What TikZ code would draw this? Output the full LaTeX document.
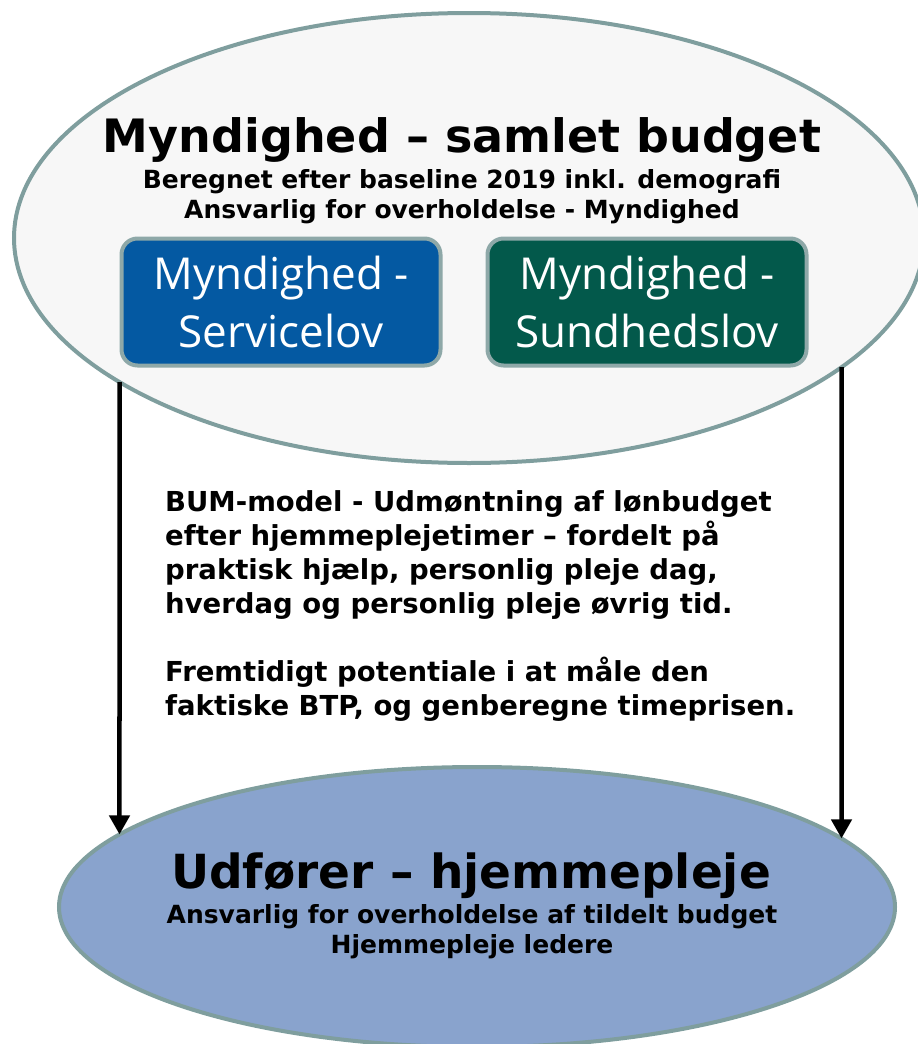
\documentclass[tikz,border=0pt]{standalone}
\usepackage{fontspec}
\setmainfont{DejaVu Sans}
\newfontfamily\boxfont{Open Sans}
\usepackage{xcolor}
\usepackage{tikz}
\usetikzlibrary{shapes,arrows.meta,positioning,intersections}

\definecolor{rimgray}{HTML}{7F9E9E}
\definecolor{boxrim}{HTML}{8EA8A8}
\definecolor{paleback}{HTML}{F7F7F7}
\definecolor{udfblue}{HTML}{89A3CD}
\definecolor{serviceblue}{HTML}{0459A2}
\definecolor{sundgreen}{HTML}{03594B}

\begin{document}
\begin{tikzpicture}[
    x=1pt,
    y=-1pt,
    cloud/.style={
        draw=rimgray,
        ellipse,
        line width=4pt,
        inner sep=0pt
    },
    block/.style={
        rectangle,
        draw=boxrim,
        line width=4pt,
        rounded corners=16pt,
        text=white,
        minimum width=319pt,
        minimum height=127pt,
        align=center,
        font=\boxfont\fontsize{44}{58}\selectfont
    },
    title/.style={
        anchor=base,
        inner sep=0pt,
        font=\bfseries\fontsize{46}{54}\selectfont
    },
    subtitle/.style={
        anchor=north,
        inner sep=0pt,
        align=center,
        font=\bfseries\fontsize{25}{30}\selectfont
    },
    line/.style={
        draw, -{Triangle[width=20pt,length=19pt]}, line width=4.5pt
    }
]
    \useasboundingbox (0,0) rectangle (918,1044);

    % Nodes
    \node [cloud, fill=paleback, minimum width=910pt, minimum height=450pt, name path=toprim] (top) at (469,238) {};
    \node [cloud, fill=udfblue, minimum width=836pt, minimum height=280pt, name path=botrim] (bottom) at (477,907) {};

    \node [title] (toptitle) at (462,152) {Myndighed – samlet budget};
    \node [subtitle] (topsub) at (462,169) {Beregnet efter baseline 2019 inkl. demografi\\Ansvarlig for overholdelse - Myndighed};

    \node [block, fill=serviceblue] (service) at (281,302) {Myndighed -\\Servicelov};
    \node [block, fill=sundgreen, right=43pt of service] (sund) {Myndighed -\\Sundhedslov};

    \node [anchor=north west, inner sep=0pt, align=left, font=\bfseries\fontsize{27.5}{34}\selectfont] (note) at (165,490) {BUM-model - Udmøntning af lønbudget\\efter hjemmeplejetimer – fordelt på\\praktisk hjælp, personlig pleje dag,\\hverdag og personlig pleje øvrig tid.\\[34pt]Fremtidigt potentiale i at måle den\\faktiske BTP, og genberegne timeprisen.};

    \node [title, font=\bfseries\fontsize{47}{54}\selectfont] (bottitle) at (471,888) {Udfører – hjemmepleje};
    \node [subtitle] (botsub) at (472,904) {Ansvarlig for overholdelse af tildelt budget\\Hjemmepleje ledere};

    % Edge end points on the two rims
    \path [name path=leftdrop] (119.5,300) -- (119.5,1000);
    \path [name path=rightdrop] (841.5,300) -- (841.5,1000);
    \path [name intersections={of=toprim and leftdrop, by=ltop}];
    \path [name intersections={of=toprim and rightdrop, by=rtop}];
    \path [name intersections={of=botrim and leftdrop, sort by=leftdrop, by=lbot}];
    \path [name intersections={of=botrim and rightdrop, sort by=rightdrop, by=rbot}];

    % Edges
    \path [line] (ltop) -- (lbot);
    \path [line] (rtop) -- (rbot);

\end{tikzpicture}
\end{document}
